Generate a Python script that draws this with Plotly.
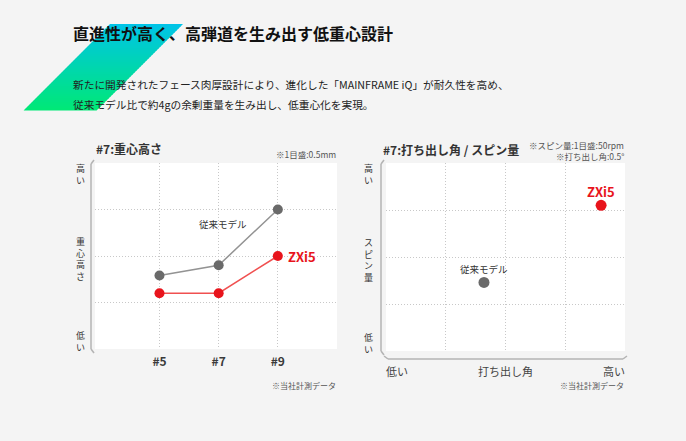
import plotly.graph_objects as go

# ---------------- data ----------------
clubs = ["#5", "#7", "#9"]
cg_zxi5 = [1.2, 1.2, 2.0]          # 重心高さ (1目盛 = 0.5mm)
cg_prev = [1.58, 1.8, 3.0]

launch_zxi5 = 3.6                  # 打ち出し角 (1目盛 = 0.5°)
spin_zxi5 = 3.1                    # スピン量 (1目盛 = 50rpm)
launch_prev = 1.64
spin_prev = 1.46

name_new = "ZXi5"
name_prev = "従来モデル"

# ---------------- style ----------------
W, H = 686, 441
FONT = "Noto Sans CJK JP"
RED = "#e8141c"
RED_LINE = "#f05050"
GRAY = "#6a6a6a"
GRAY_LINE = "#939393"
TXT = "#333333"
AX = "#b4b4b4"
GRID = "#c8c8c8"
BG = "#f4f4f4"


def px(x):
    return x / W


def py(y):
    return 1 - y / H


fig = go.Figure()

# left chart: 重心高さ
fig.add_trace(go.Scatter(x=clubs, y=cg_prev, mode="lines+markers", name=name_prev,
                         line=dict(color=GRAY_LINE, width=1.5),
                         marker=dict(color=GRAY, size=10), xaxis="x", yaxis="y",
                         showlegend=False, hoverinfo="skip"))
fig.add_trace(go.Scatter(x=clubs, y=cg_zxi5, mode="lines+markers", name=name_new,
                         line=dict(color=RED_LINE, width=1.5),
                         marker=dict(color=RED, size=10), xaxis="x", yaxis="y",
                         showlegend=False, hoverinfo="skip"))

# right chart: 打ち出し角 / スピン量
fig.add_trace(go.Scatter(x=[launch_prev], y=[spin_prev], mode="markers", name=name_prev,
                         marker=dict(color=GRAY, size=11), xaxis="x2", yaxis="y2",
                         showlegend=False, hoverinfo="skip"))
fig.add_trace(go.Scatter(x=[launch_zxi5], y=[spin_zxi5], mode="markers", name=name_new,
                         marker=dict(color=RED, size=11), xaxis="x2", yaxis="y2",
                         showlegend=False, hoverinfo="skip"))

grid_common = dict(showgrid=True, gridcolor=GRID, griddash="1px,2px", gridwidth=1,
                   zeroline=False, showline=False, ticks="", fixedrange=True)

fig.update_layout(
    width=W, height=H,
    margin=dict(l=0, r=0, t=0, b=0),
    paper_bgcolor=BG,
    plot_bgcolor="#ffffff",
    font=dict(family=FONT, color=TXT),
    xaxis=dict(domain=[px(95), px(337)], anchor="y", type="category",
               range=[-1.09, 3.0], tickvals=clubs, ticktext=[f"<b>{c}</b>" for c in clubs],
               tickfont=dict(size=12, color="#3a3a3a", family=FONT),
               ticklabelstandoff=4, **grid_common),
    yaxis=dict(domain=[py(349), py(163)], anchor="x", range=[0, 4],
               tickvals=[1, 2, 3], showticklabels=False, **grid_common),
    xaxis2=dict(domain=[px(386), px(625)], anchor="y2", range=[0, 4],
                tickvals=[1, 2, 3], showticklabels=False, **grid_common),
    yaxis2=dict(domain=[py(351), py(163)], anchor="x2", range=[0, 4],
                tickvals=[1, 2, 3], showticklabels=False, **grid_common),
)

shapes = []

# gradient parallelogram (decoration)
top_y, bot_y = 24, 110
top_l, bot_l = 110, 24
wdt = 73
c_top = (0, 196, 232)
c_bot = (0, 232, 118)
n = 43
for i in range(n):
    y0 = top_y + (bot_y - top_y) * i / n
    y1 = top_y + (bot_y - top_y) * (i + 1) / n + 0.4
    t = (i + 0.5) / n
    col = tuple(int(round(c_top[k] + (c_bot[k] - c_top[k]) * t)) for k in range(3))
    xl0 = top_l + (bot_l - top_l) * (y0 - top_y) / (bot_y - top_y)
    xl1 = top_l + (bot_l - top_l) * (y1 - top_y) / (bot_y - top_y)
    path = (f"M {px(xl0)} {py(y0)} L {px(xl0 + wdt)} {py(y0)} "
            f"L {px(xl1 + wdt)} {py(y1)} L {px(xl1)} {py(y1)} Z")
    shapes.append(dict(type="path", xref="paper", yref="paper", path=path,
                       fillcolor=f"rgb{col}", line=dict(width=0), layer="below"))


def seg(x0, y0, x1, y1):
    shapes.append(dict(type="line", xref="paper", yref="paper",
                       x0=px(x0), y0=py(y0), x1=px(x1), y1=py(y1),
                       line=dict(color=AX, width=1.5)))


# left chart vertical axis arrow
seg(91, 164, 91, 349)
seg(91, 164, 94, 160)
seg(91, 349, 94, 353)
# right chart vertical axis arrow
seg(381, 164, 381, 351)
seg(381, 164, 384, 160)
seg(381, 351, 384, 355)
# right chart horizontal axis arrow
seg(388, 359, 623, 359)
seg(388, 359, 384, 356)
seg(623, 359, 627, 356)

fig.update_layout(shapes=shapes)

ann = []


def text(x, y, s, size, color=TXT, bold=False, xanchor="left", yanchor="middle"):
    ann.append(dict(xref="paper", yref="paper", x=px(x), y=py(y), text=(f"<b>{s}</b>" if bold else s),
                    showarrow=False, xanchor=xanchor, yanchor=yanchor,
                    font=dict(size=size, color=color, family=FONT)))


def vtext(x, y_top, s, size=9, color="#333333"):
    # vertical writing: one character per line
    ann.append(dict(xref="paper", yref="paper", x=px(x), y=py(y_top), text="<br>".join(s),
                    showarrow=False, xanchor="center", yanchor="top", borderpad=0,
                    font=dict(size=size, color=color, family=FONT)))


# header
text(71, 33, "直進性が高く、高弾道を生み出す低重心設計", 16, color="#111111", bold=True)
text(71, 84, "新たに開発されたフェース肉厚設計により、進化した「MAINFRAME iQ」が耐久性を高め、", 10.7, color="#222222")
text(71, 104, "従来モデル比で約4gの余剰重量を生み出し、低重心化を実現。", 10.7, color="#222222")

# left chart texts
text(94, 148, "#7:重心高さ", 12, bold=True)
text(338, 154, "※1目盛:0.5mm", 8.5, color="#555555", xanchor="right")
text(338, 385, "※当社計測データ", 8, color="#555555", xanchor="right")
vtext(80, 161, "高い")
vtext(80, 234, "重心高さ")
vtext(80, 328, "低い")

# right chart texts
text(381, 150, "#7:打ち出し角 / スピン量", 12, bold=True)
text(626, 145, "※スピン量:1目盛:50rpm", 8.5, color="#555555", xanchor="right")
text(626, 156, "※打ち出し角:0.5°", 8.5, color="#555555", xanchor="right")
text(626, 385, "※当社計測データ", 8, color="#555555", xanchor="right")
vtext(368, 161, "高い")
vtext(368, 235, "スピン量")
vtext(368, 330, "低い")
text(397, 371, "低い", 11, color="#444444", xanchor="center")
text(505, 371, "打ち出し角", 11, color="#444444", xanchor="center")
text(614, 371, "高い", 11, color="#444444", xanchor="center")

# series labels attached to points
ann.append(dict(xref="x", yref="y", x=clubs[-1], y=cg_zxi5[-1], text=f"<b>{name_new}</b>",
                showarrow=False, xanchor="left", xshift=8,
                font=dict(size=13, color=RED, family=FONT)))
ann.append(dict(xref="x", yref="y", x=clubs[1], y=cg_prev[1], text=name_prev,
                showarrow=False, xanchor="center", xshift=4, yshift=41,
                font=dict(size=9.5, color=TXT, family=FONT)))
ann.append(dict(xref="x2", yref="y2", x=launch_zxi5, y=spin_zxi5, text=f"<b>{name_new}</b>",
                showarrow=False, xanchor="center", yshift=14,
                font=dict(size=13, color=RED, family=FONT)))
ann.append(dict(xref="x2", yref="y2", x=launch_prev, y=spin_prev, text=name_prev,
                showarrow=False, xanchor="center", yshift=13,
                font=dict(size=9.5, color=TXT, family=FONT)))

fig.update_layout(annotations=ann)

fig.write_html("out.html", config={"displayModeBar": False},
               post_script="document.body.style.margin='0';document.body.style.background='%s';" % BG)
